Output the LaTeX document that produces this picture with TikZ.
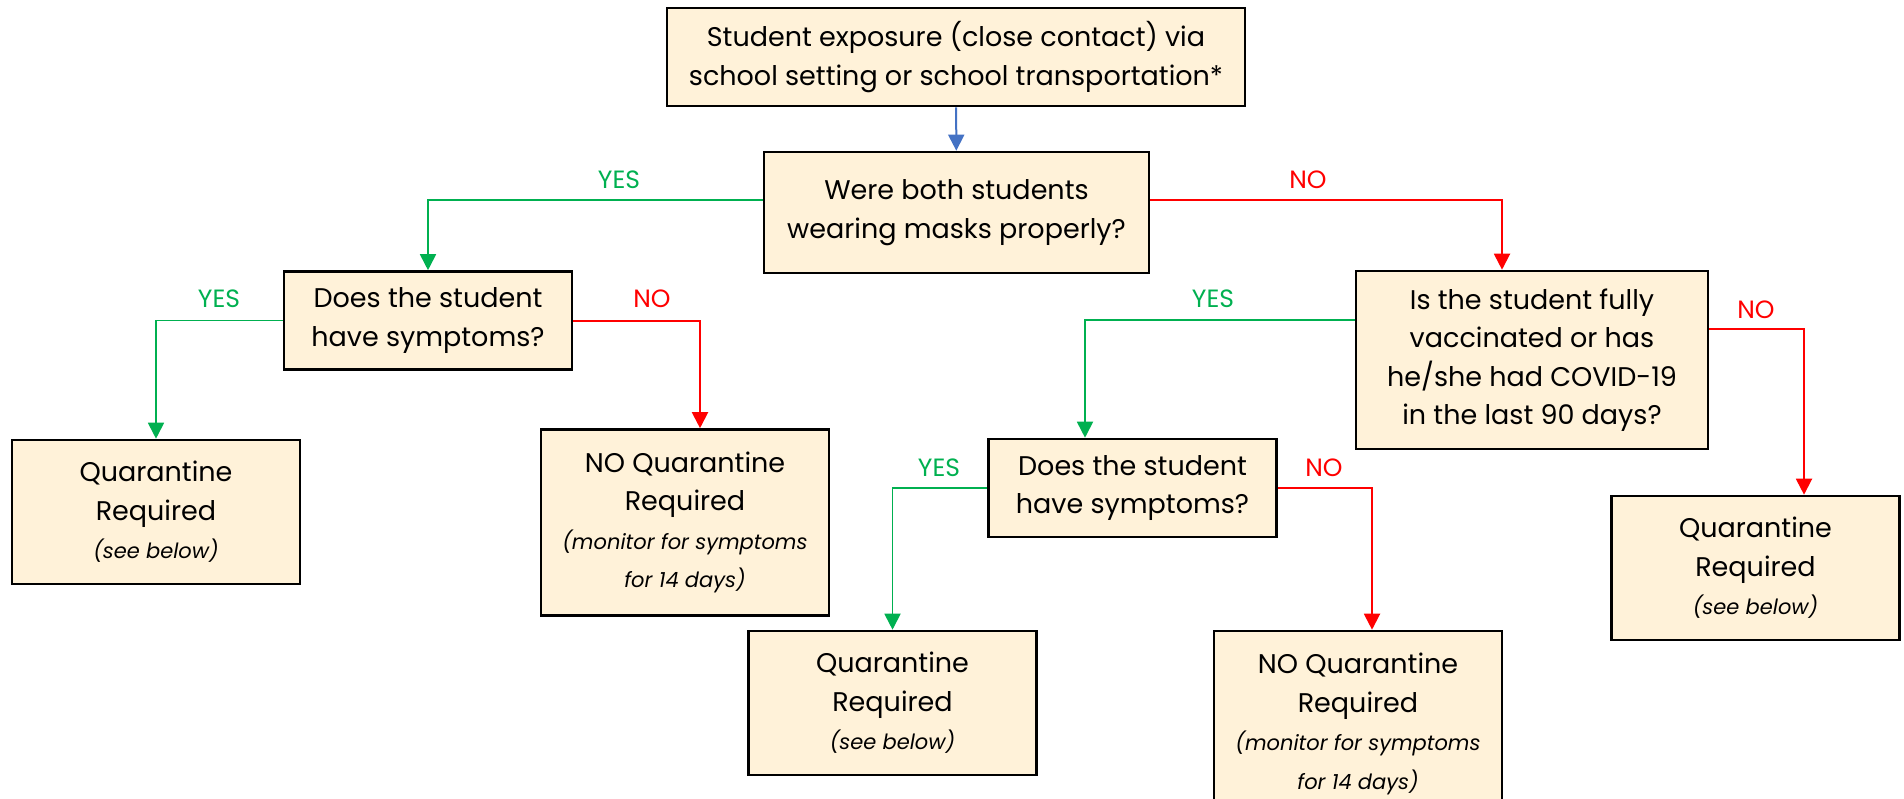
\documentclass[tikz,border=0pt]{standalone}
\usepackage{fontspec}
\setmainfont{Poppins}
\usepackage{tikz}
\usetikzlibrary{arrows.meta,positioning}

\definecolor{boxfill}{RGB}{255,242,217}
\definecolor{yesgreen}{RGB}{0,176,80}
\definecolor{nored}{RGB}{255,0,0}
\definecolor{flowblue}{RGB}{68,114,196}

\newcommand{\notetext}[1]{{\fontsize{10.5}{15}\selectfont\itshape #1}}

\begin{document}
\begin{tikzpicture}[x=0.5pt,y=-0.5pt]
			\tikzstyle{Box}		= [draw, line width=1.3pt, fill=boxfill, align=center, inner sep=0pt, font=\fontsize{13.5}{19.25}\selectfont]
			\tikzstyle{Ask}		= [Box, minimum width=144pt, minimum height=49pt]
			\tikzstyle{Result}	= [Box, minimum width=144pt, minimum height=72pt]
			\tikzstyle{Tip}		= [-{Triangle[length=8pt,width=8pt]}]
			\tikzstyle{YesLine}	= [Tip, draw=yesgreen, line width=0.9pt]
			\tikzstyle{NoLine}	= [Tip, draw=nored, line width=1pt]
			\tikzstyle{Label}	= [font=\fontsize{12.5}{14}\selectfont, inner sep=0pt]

			\useasboundingbox (0,0) rectangle (1904,798);

			% questions
			\node (exposure) at (956,57) [Box, minimum width=289pt, minimum height=49pt]
				{Student exposure (close contact) via\\school setting or school transportation*};
			\node (masks) at (956.5,212.5) [Box, minimum width=192.5pt, minimum height=60.5pt]
				{Were both students\\wearing masks properly?};
			\node (symL) at (428,320.5) [Ask] {Does the student\\have symptoms?};
			\node (vacc) at (1532,360) [Box, minimum width=176pt, minimum height=89pt]
				{Is the student fully\\vaccinated or has\\he/she had COVID-19\\in the last 90 days?};
			\node (symR) at (1132.5,488) [Ask] {Does the student\\have symptoms?};

			% outcomes
			\foreach \n/\x/\y in {quarL/156/512, quarR/1755.5/568, quarB/892.5/703}
				\node (\n) at (\x,\y) [Result] {Quarantine\\Required\\\notetext{(see below)}};
			\foreach \n/\x/\y in {freeL/685/522.5, freeB/1358/724}
				\node (\n) at (\x,\y) [Result, minimum height=93pt]
					{NO Quarantine\\Required\\\notetext{(monitor for symptoms}\\\notetext{for 14 days)}};

			% connectors
			\draw [Tip, draw=flowblue, line width=1pt] (exposure) -- (masks);
			\draw [YesLine] ([yshift=6.25pt]masks.west) -| (symL.north);
			\draw [NoLine] ([yshift=6.25pt]masks.east) -| ([xshift=-15pt]vacc.north);
			\draw [YesLine] (symL.west) -| (quarL.north);
			\draw [NoLine] (symL.east) -| ([xshift=7.5pt]freeL.north);
			\draw [YesLine] ([yshift=20pt]vacc.west) -| ([xshift=-23.75pt]symR.north);
			\draw [NoLine] ([yshift=15.5pt]vacc.east) -| ([xshift=24.25pt]quarR.north);
			\draw [YesLine] (symR.west) -| (quarB.north);
			\draw [NoLine] (symR.east) -| ([xshift=7pt]freeB.north);

			% branch labels
			\foreach \x/\y/\t/\c in {619/180/YES/yesgreen, 1308/180/NO/nored, 219/299/YES/yesgreen, 652/299/NO/nored,
				1213/299/YES/yesgreen, 1756/310/NO/nored, 939/468/YES/yesgreen, 1324/468/NO/nored}
				\node (lab\x) at (\x,\y) [Label, text=\c] {\t};
\end{tikzpicture}
\end{document}
